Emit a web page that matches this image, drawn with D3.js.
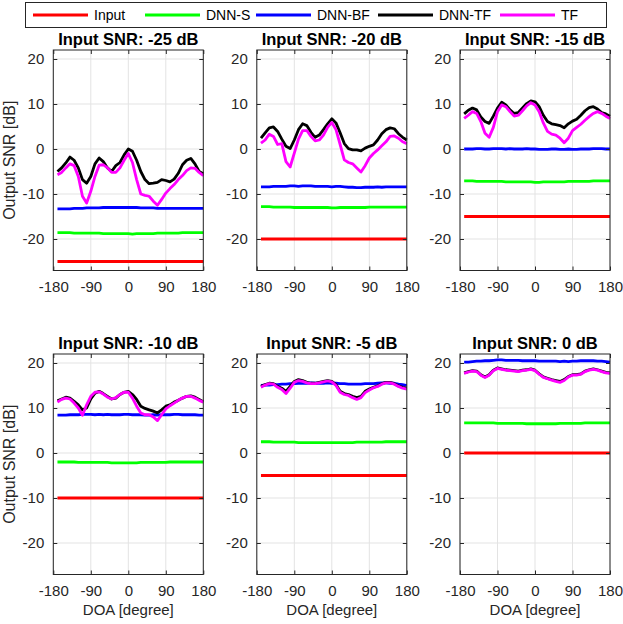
<!DOCTYPE html>
<html>
<head>
<meta charset="utf-8">
<script src="https://cdn.jsdelivr.net/npm/d3@7"></script>
<style>
  html, body { margin: 0; padding: 0; background: #fff; }
  svg { display: block; font-family: "Liberation Sans", Arial, sans-serif; }
</style>
</head>
<body>
<svg id="chart" width="623" height="624"></svg>
<script>
// Direction of arrival grid (degrees)
const doa = d3.range(-170, 181, 10);

const panelTitles = ["Input SNR: -25 dB", "Input SNR: -20 dB", "Input SNR: -15 dB",
                     "Input SNR: -10 dB", "Input SNR: -5 dB", "Input SNR: 0 dB"];
const inputSNR = [-25, -20, -15, -10, -5, 0];

const seriesNames = ["Input", "DNN-S", "DNN-BF", "DNN-TF", "TF"];
const seriesColors = ["#ff0000", "#00ff00", "#0000ff", "#000000", "#ff00ff"];

const xTicks = [-180, -90, 0, 90, 180];
const yTicks = [-20, -10, 0, 10, 20];

// Output SNR of DNN-S per panel (nearly flat over DOA)
const dnnS = [
  [-18.6,-18.6,-18.6,-18.6,-18.7,-18.7,-18.7,-18.7,-18.7,-18.7,-18.7,-18.8,-18.8,-18.8,-18.8,-18.8,-18.8,-18.8,-18.9,-18.8,-18.8,-18.8,-18.8,-18.8,-18.7,-18.7,-18.7,-18.7,-18.7,-18.7,-18.6,-18.6,-18.6,-18.6,-18.6,-18.6],
  [-12.8,-12.8,-12.8,-12.9,-12.9,-12.9,-12.9,-12.9,-13.0,-13.0,-13.0,-13.0,-13.0,-13.0,-13.0,-13.0,-13.0,-13.1,-13.1,-13.0,-13.0,-13.0,-13.0,-13.0,-13.0,-13.0,-12.9,-12.9,-12.9,-12.9,-12.9,-12.9,-12.9,-12.9,-12.9,-12.9],
  [-7.1,-7.1,-7.1,-7.2,-7.2,-7.2,-7.2,-7.2,-7.2,-7.2,-7.3,-7.3,-7.3,-7.3,-7.3,-7.3,-7.3,-7.4,-7.4,-7.3,-7.3,-7.3,-7.3,-7.3,-7.3,-7.2,-7.2,-7.2,-7.2,-7.2,-7.2,-7.1,-7.1,-7.1,-7.1,-7.1],
  [-2.0,-2.0,-2.0,-2.0,-2.0,-2.1,-2.1,-2.1,-2.1,-2.1,-2.1,-2.1,-2.1,-2.2,-2.2,-2.2,-2.2,-2.2,-2.2,-2.2,-2.1,-2.1,-2.1,-2.1,-2.1,-2.1,-2.1,-2.0,-2.0,-2.0,-2.0,-2.0,-2.0,-2.0,-2.0,-2.0],
  [2.5,2.5,2.5,2.4,2.4,2.4,2.4,2.4,2.4,2.3,2.3,2.3,2.3,2.3,2.3,2.3,2.3,2.3,2.3,2.3,2.3,2.3,2.3,2.4,2.4,2.4,2.4,2.4,2.4,2.4,2.5,2.5,2.5,2.5,2.5,2.5],
  [6.7,6.7,6.7,6.7,6.7,6.7,6.7,6.7,6.6,6.6,6.6,6.6,6.6,6.6,6.6,6.5,6.5,6.5,6.5,6.5,6.5,6.5,6.5,6.6,6.6,6.6,6.6,6.6,6.6,6.7,6.7,6.7,6.7,6.7,6.7,6.7]
];

// Output SNR of DNN-BF per panel
const dnnBF = [
  [-13.3,-13.3,-13.3,-13.3,-13.2,-13.2,-13.2,-13.1,-13.1,-13.1,-13.1,-13.0,-13.0,-13.0,-13.0,-13.0,-13.0,-13.0,-13.0,-13.0,-13.1,-13.1,-13.1,-13.1,-13.2,-13.2,-13.2,-13.2,-13.2,-13.2,-13.2,-13.2,-13.2,-13.2,-13.2,-13.2],
  [-8.4,-8.4,-8.4,-8.3,-8.3,-8.3,-8.3,-8.2,-8.2,-8.3,-8.2,-8.2,-8.2,-8.3,-8.3,-8.3,-8.3,-8.4,-8.3,-8.3,-8.4,-8.5,-8.5,-8.6,-8.6,-8.5,-8.5,-8.5,-8.4,-8.5,-8.4,-8.4,-8.4,-8.4,-8.4,-8.4],
  [0.0,0.0,0.0,0.1,0.1,0.0,0.0,0.1,0.1,0.1,0.0,0.1,0.0,0.0,0.0,0.1,0.0,0.0,-0.1,-0.1,-0.1,0.0,0.0,-0.1,-0.1,0.0,-0.1,-0.1,0.0,0.0,0.0,0.1,0.1,0.1,0.0,0.0],
  [8.4,8.4,8.4,8.5,8.5,8.5,8.6,8.6,8.6,8.5,8.6,8.5,8.6,8.5,8.5,8.5,8.6,8.6,8.5,8.5,8.5,8.4,8.4,8.5,8.4,8.5,8.5,8.5,8.6,8.6,8.5,8.5,8.5,8.5,8.4,8.4],
  [15.0,15.1,15.1,15.2,15.2,15.3,15.3,15.4,15.4,15.5,15.5,15.5,15.6,15.5,15.5,15.5,15.6,15.5,15.5,15.4,15.4,15.3,15.3,15.3,15.3,15.4,15.4,15.4,15.5,15.6,15.6,15.5,15.5,15.3,15.2,15.0],
  [20.2,20.2,20.3,20.4,20.4,20.5,20.5,20.6,20.7,20.7,20.6,20.6,20.6,20.6,20.5,20.5,20.5,20.5,20.4,20.4,20.4,20.4,20.4,20.3,20.4,20.3,20.4,20.4,20.5,20.5,20.5,20.5,20.4,20.4,20.3,20.2]
];

// Output SNR of DNN-TF per panel
const dnnTF = [
  [-5.0,-4.2,-3.1,-1.8,-2.5,-4.2,-6.8,-7.6,-6.1,-3.3,-2.0,-2.8,-4.2,-5.0,-3.7,-3.0,-1.3,0.0,-0.5,-2.5,-5.0,-6.8,-7.7,-7.6,-7.4,-6.8,-7.0,-7.3,-6.7,-5.4,-3.5,-2.5,-2.1,-3.3,-5.0,-5.5],
  [2.4,3.6,4.7,4.9,3.9,2.2,0.6,0.1,2.0,4.3,5.6,5.2,3.7,2.6,3.1,4.3,5.6,6.7,5.8,3.6,1.2,0.1,-0.2,-0.2,-0.4,0.2,0.6,0.9,2.0,3.4,4.3,4.7,4.5,3.4,2.6,2.0],
  [7.8,8.6,9.1,8.7,7.1,6.1,5.7,7.3,9.1,10.4,9.8,8.7,7.9,8.1,9.1,10.1,10.7,10.5,9.4,7.5,6.1,5.6,5.4,5.2,4.7,5.6,6.2,6.6,7.5,8.5,9.2,9.4,8.9,8.1,7.8,7.3],
  [11.6,12.0,12.4,12.2,11.5,10.7,9.6,10.0,12.0,13.3,13.7,13.2,12.6,12.0,12.2,13.0,13.5,13.7,13.0,11.9,10.4,9.9,9.6,9.3,8.9,9.6,10.4,10.7,11.3,11.7,12.2,12.6,12.7,12.4,11.9,11.4],
  [14.8,15.2,15.5,15.4,14.8,14.4,13.7,14.8,15.9,16.3,16.1,15.7,15.5,15.5,15.7,15.9,16.1,15.9,15.2,13.7,13.2,13.0,12.6,12.3,12.6,13.7,14.2,14.6,14.9,15.4,15.7,15.7,15.4,14.9,14.6,14.4],
  [17.8,18.1,18.3,18.2,17.4,16.9,17.4,18.4,18.9,18.7,18.5,18.4,18.3,18.2,18.4,18.5,18.7,18.4,17.6,16.9,16.6,16.3,16.1,15.9,16.3,17.0,17.4,17.4,17.6,18.2,18.5,18.7,18.5,18.2,17.9,17.8]
];

// Output SNR of TF per panel
const tf = [
  [-5.7,-5.2,-4.2,-3.3,-3.7,-6.1,-10.5,-12.0,-9.4,-6.1,-3.6,-3.5,-4.2,-5.2,-5.2,-4.2,-2.5,-1.0,-3.0,-6.8,-10.0,-10.3,-10.5,-11.6,-12.5,-11.2,-9.8,-8.8,-7.9,-6.8,-5.9,-4.8,-4.2,-4.3,-5.2,-5.9],
  [1.3,2.0,3.3,2.8,1.0,1.2,-2.8,-4.0,-0.9,2.2,4.1,4.1,2.8,1.8,2.0,3.1,4.8,5.9,4.3,1.0,-2.4,-3.0,-3.3,-4.2,-5.1,-3.7,-2.0,-1.0,-0.2,0.7,1.6,2.8,2.9,2.4,1.6,1.2],
  [6.8,7.5,8.3,7.9,6.1,3.5,2.6,4.8,8.3,9.8,9.4,8.3,7.3,7.5,8.5,9.6,10.3,9.8,8.3,5.8,3.9,3.3,3.1,2.4,1.4,2.4,4.1,4.8,5.5,6.4,7.2,7.9,8.3,7.9,7.3,6.8],
  [11.3,11.9,12.2,12.0,11.1,10.0,8.4,10.7,12.6,13.5,13.6,13.1,12.4,12.0,12.3,13.0,13.5,13.5,12.2,10.4,8.9,8.5,8.5,8.0,7.2,8.5,9.8,10.5,11.1,11.7,12.2,12.6,12.6,12.2,11.7,11.3],
  [14.6,15.1,15.4,15.3,14.6,14.1,13.2,14.4,15.7,16.1,15.9,15.6,15.4,15.4,15.6,15.8,16.0,15.8,15.0,13.5,13.0,12.8,12.3,11.9,12.3,13.4,14.0,14.5,14.8,15.3,15.6,15.6,15.3,14.8,14.4,14.2],
  [17.7,18.0,18.2,18.1,17.3,16.8,17.3,18.3,18.8,18.6,18.4,18.3,18.2,18.1,18.3,18.4,18.6,18.3,17.5,16.8,16.5,16.2,15.9,15.7,16.1,16.9,17.3,17.3,17.5,18.1,18.4,18.6,18.4,18.1,17.8,17.7]
];

const svg = d3.select("#chart");

const plotW = 150, plotH = 220.5;
const colX = [53.3, 256.8, 460];
const rowY = [50, 354];

const x = d3.scaleLinear().domain([-180, 180]).range([0, plotW]);
const y = d3.scaleLinear().domain([-27, 22]).range([plotH, 0]);

const line = d3.line().x((d, i) => x(doa[i])).y(d => y(d));

// tick labels use a plain hyphen for negatives
const tickFmt = d => String(d);

panelTitles.forEach((title, p) => {
  const col = p % 3, row = Math.floor(p / 3);
  const g = svg.append("g").attr("transform", `translate(${colX[col]},${rowY[row]})`);

  // grid
  g.append("g").selectAll("line").data(xTicks).join("line")
    .attr("x1", d => x(d)).attr("x2", d => x(d)).attr("y1", 0).attr("y2", plotH)
    .attr("stroke", "#e3e3e3").attr("stroke-width", 1);
  g.append("g").selectAll("line").data(yTicks).join("line")
    .attr("y1", d => y(d)).attr("y2", d => y(d)).attr("x1", 0).attr("x2", plotW)
    .attr("stroke", "#e3e3e3").attr("stroke-width", 1);

  const series = [
    doa.map(() => inputSNR[p]),
    dnnS[p], dnnBF[p], dnnTF[p], tf[p]
  ];
  series.forEach((vals, s) => {
    g.append("path").datum(vals)
      .attr("d", line)
      .attr("fill", "none")
      .attr("stroke", seriesColors[s])
      .attr("stroke-width", 2.8)
      .attr("stroke-linejoin", "round");
  });

  // axes with inward ticks on all sides
  const ax = (gen, tx, ty) => {
    const a = g.append("g").attr("transform", `translate(${tx},${ty})`).call(gen);
    a.select(".domain").remove();
    a.selectAll(".tick line").attr("stroke", "#262626");
    a.selectAll("text").attr("fill", "#262626").style("font-size", "15px")
      .style("font-family", "'Liberation Sans', Arial, sans-serif");
    return a;
  };
  ax(d3.axisBottom(x).tickValues(xTicks).tickSize(-4).tickPadding(11).tickFormat(tickFmt), 0, plotH);
  ax(d3.axisTop(x).tickValues(xTicks).tickSize(-4).tickFormat(""), 0, 0);
  ax(d3.axisLeft(y).tickValues(yTicks).tickSize(-4).tickPadding(9).tickFormat(tickFmt), 0, 0);
  ax(d3.axisRight(y).tickValues(yTicks).tickSize(-4).tickFormat(""), plotW, 0);

  g.append("rect").attr("width", plotW).attr("height", plotH)
    .attr("fill", "none").attr("stroke", "#262626").attr("stroke-width", 1);

  g.append("text").attr("x", plotW / 2).attr("y", -5)
    .attr("text-anchor", "middle").attr("font-weight", "bold")
    .style("font-size", "16.5px").attr("fill", "#000").text(title);

  if (col === 0) {
    g.append("text")
      .attr("transform", `translate(-38,${plotH / 2}) rotate(-90)`)
      .attr("text-anchor", "middle").style("font-size", "16px").attr("fill", "#262626")
      .text("Output SNR [dB]");
  }
  if (row === 1) {
    g.append("text").attr("x", plotW / 2).attr("y", plotH + 40)
      .attr("text-anchor", "middle").style("font-size", "15px").attr("fill", "#262626")
      .text("DOA [degree]");
  }
});

// legend
const legend = svg.append("g");
legend.append("rect").attr("x", 25.5).attr("y", 2.5).attr("width", 581).attr("height", 25)
  .attr("fill", "#fff").attr("stroke", "#262626").attr("stroke-width", 1);
const legendX = [33, 145, 256, 378, 500];
seriesNames.forEach((name, i) => {
  legend.append("line").attr("x1", legendX[i]).attr("x2", legendX[i] + 55)
    .attr("y1", 15).attr("y2", 15).attr("stroke", seriesColors[i]).attr("stroke-width", 2.8);
  legend.append("text").attr("x", legendX[i] + 61).attr("y", 20)
    .style("font-size", "14px").attr("fill", "#000").text(name);
});
</script>
</body>
</html>
